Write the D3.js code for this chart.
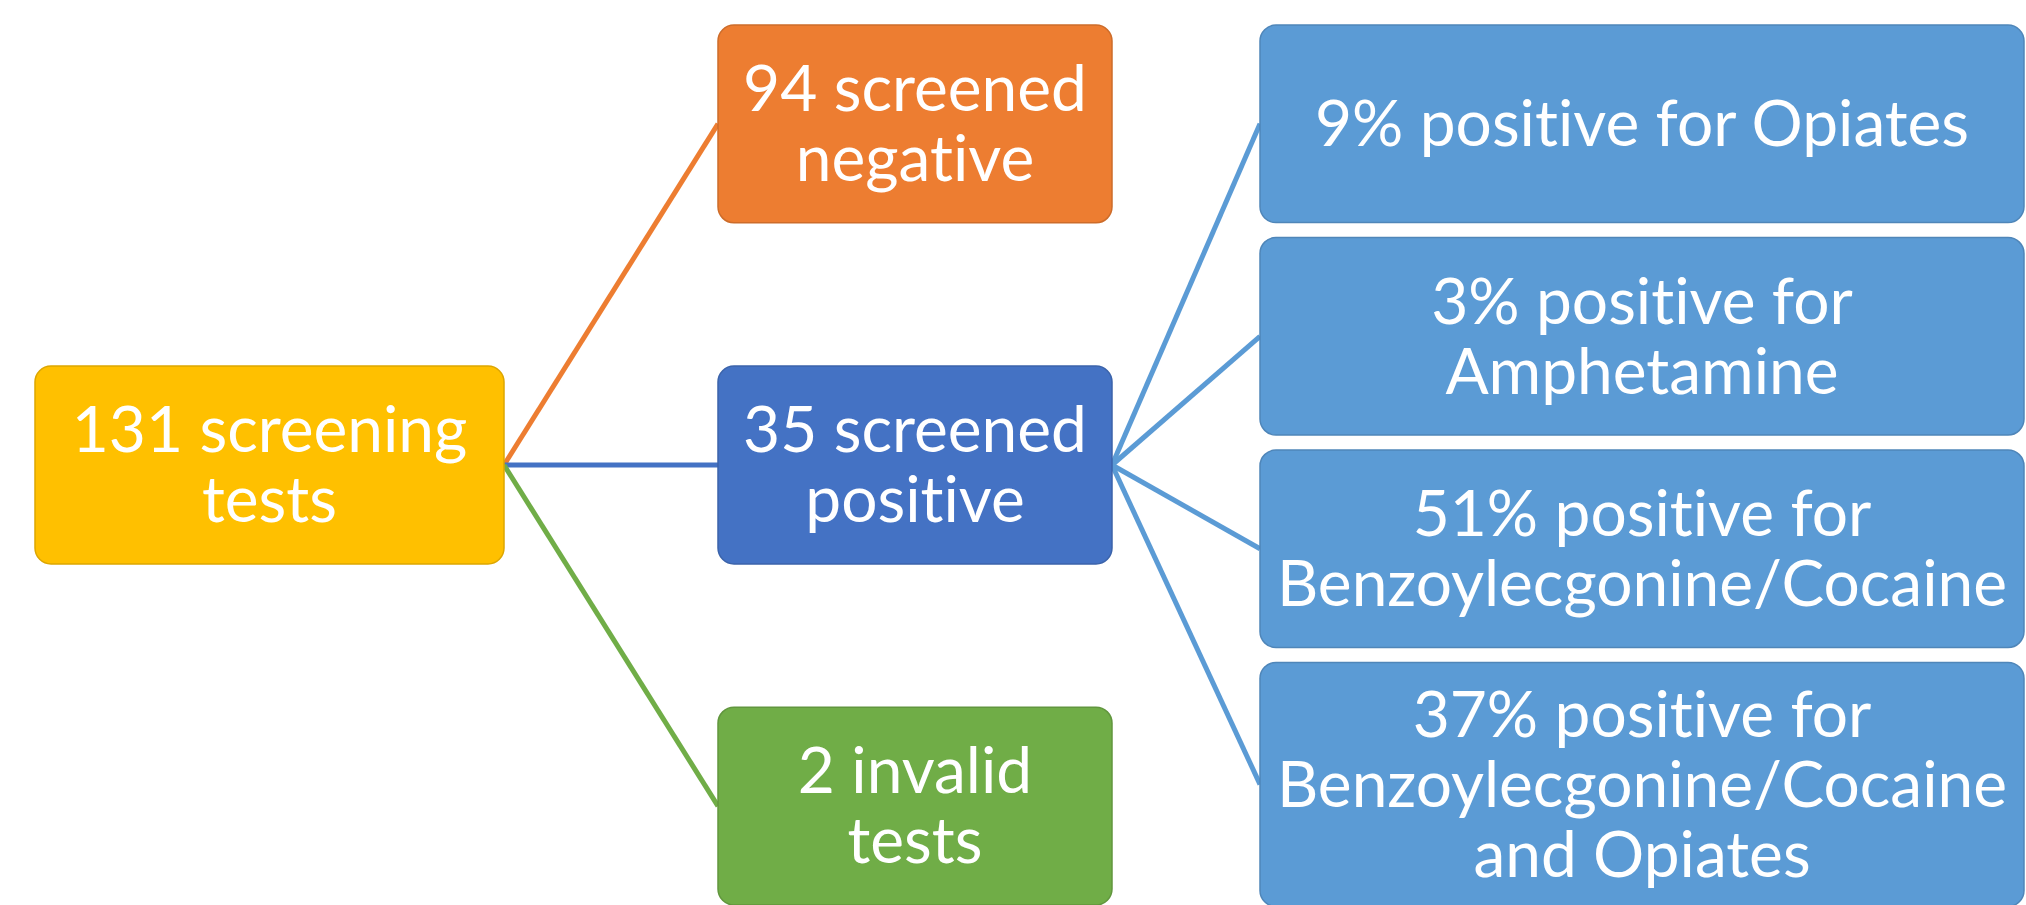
<html>
<head>
<title>Screening tests</title>
<script src="https://cdn.jsdelivr.net/npm/d3@7"></script>
<style>
  body { margin: 0; background: #fff; }
  .node text { fill: #fff; font-family: Lato, "Open Sans", sans-serif; font-variant-ligatures: none; }
</style>
</head>
<body>
<script>
// tree data
var ids = ["root", "neg", "pos", "inv", "opi", "amp", "coc", "cocopi"];
var parents = [null, "root", "root", "root", "pos", "pos", "pos", "pos"];
var levels = [0, 1, 1, 1, 2, 2, 2, 2];
var labels = [
  ["131 screening", "tests"],
  ["94 screened", "negative"],
  ["35 screened", "positive"],
  ["2 invalid", "tests"],
  ["9% positive for Opiates"],
  ["3% positive for", "Amphetamine"],
  ["51% positive for", "Benzoylecgonine/Cocaine"],
  ["37% positive for", "Benzoylecgonine/Cocaine", "and Opiates"]
];
var colors = ["#FFC000", "#ED7D31", "#4472C4", "#70AD47", "#5B9BD5", "#5B9BD5", "#5B9BD5", "#5B9BD5"];

var width = 2026,
    height = 905;

var fontSize = 64,
    lineH = 70;

var colLeft = [35, 718, 1260],
    colRight = [504, 1112, 2024];

var svg = d3.select("body")
  .append("svg")
  .attr("width", width)
  .attr("height", height);

var nodes = ids.map(function(id, i) {
  return { id: id, parent: parents[i], level: levels[i], lines: labels[i], color: colors[i] };
});
var byId = {};
nodes.forEach(function(n) { byId[n.id] = n; });

// vertical bands per column
var bands = {
  1: d3.scaleBand().domain(nodes.filter(d => d.level == 1).map(d => d.id)).range([25, 905]).paddingInner(0.42),
  2: d3.scaleBand().domain(nodes.filter(d => d.level == 2).map(d => d.id)).range([25, 860]).paddingInner(0.07)
};

nodes.forEach(function(n) {
  n.x0 = colLeft[n.level];
  n.x1 = colRight[n.level];
  if (n.level > 0) {
    var b = bands[n.level];
    n.y0 = b(n.id);
    n.h = Math.max(b.bandwidth(), n.lines.length * lineH + 34);
  }
});
// root sits at the middle of its children
var root = byId["root"];
var kids = nodes.filter(d => d.parent == "root");
root.h = bands[1].bandwidth();
root.y0 = d3.mean(kids, d => d.y0 + bands[1].bandwidth() / 2) - root.h / 2;

nodes.forEach(function(n) {
  n.cy = n.y0 + n.h / 2;
});

// connectors
svg.append("g").attr("id", "links")
  .selectAll("line")
  .data(nodes.filter(d => d.parent))
  .enter()
  .append("line")
  .attr("x1", d => byId[d.parent].x1)
  .attr("y1", d => byId[d.parent].cy)
  .attr("x2", d => d.x0)
  .attr("y2", d => d.cy)
  .attr("stroke", d => d.color)
  .attr("stroke-width", 5);

var node = svg.append("g").attr("id", "nodes")
  .selectAll("g")
  .data(nodes)
  .enter()
  .append("g")
  .attr("class", "node");

node.append("rect")
  .attr("x", d => d.x0)
  .attr("y", d => d.y0)
  .attr("width", d => d.x1 - d.x0)
  .attr("height", d => d.h)
  .attr("rx", 16)
  .attr("fill", d => d.color)
  .attr("stroke", d => d3.color(d.color).darker(0.4))
  .attr("stroke-width", 1.5);

node.each(function(d) {
  var g = d3.select(this);
  var n = d.lines.length;
  d.lines.forEach(function(t, i) {
    g.append("text")
      .attr("x", (d.x0 + d.x1) / 2)
      .attr("y", d.cy + (i - (n - 1) / 2) * lineH)
      .attr("dy", "0.35em")
      .attr("text-anchor", "middle")
      .style("font-size", fontSize + "px")
      .text(t);
  });
});
</script>
</body>
</html>
